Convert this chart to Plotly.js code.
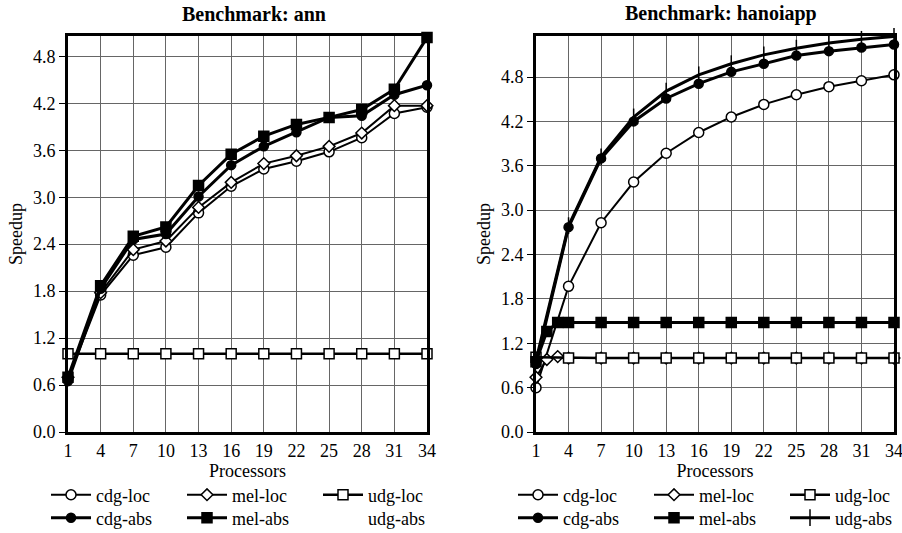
<!DOCTYPE html>
<html><head><meta charset="utf-8">
<script src="https://cdn.plot.ly/plotly-3.0.1.min.js"></script>
<style>html,body{margin:0;padding:0;background:#fff}#chart{width:902px;height:533px}</style>
</head><body><div id="chart"></div>
<script>
// ---- data ----
const procMain = [1,4,7,10,13,16,19,22,25,28,31,34];
const procFine = [1,2,3,4,7,10,13,16,19,22,25,28,31,34];
const yTickVals = [0,0.6,1.2,1.8,2.4,3.0,3.6,4.2,4.8];
const subplotTitles = ["Benchmark: ann","Benchmark: hanoiapp"];
const xTitle = "Processors";
const yTitle = "Speedup";
const seriesNames = ["cdg-loc","mel-loc","udg-loc","cdg-abs","mel-abs","udg-abs"];

// Benchmark: ann (x = procMain)
const annCdgLoc = [0.68,1.75,2.26,2.36,2.80,3.14,3.36,3.46,3.58,3.76,4.07,4.15];
const annMelLoc = [0.70,1.78,2.33,2.44,2.87,3.19,3.43,3.53,3.65,3.82,4.17,4.17];
const annUdgLoc = [1.00,1.00,1.00,1.00,1.00,1.00,1.00,1.00,1.00,1.00,1.00,1.00];
const annCdgAbs = [0.65,1.83,2.46,2.53,3.01,3.41,3.65,3.83,4.02,4.04,4.31,4.43];
const annMelAbs = [0.70,1.87,2.50,2.62,3.15,3.55,3.78,3.93,4.02,4.12,4.38,5.04];
const annUdgAbs = [1.00,1.00,1.00,1.00,1.00,1.00,1.00,1.00,1.00,1.00,1.00,1.00];

// Benchmark: hanoiapp (mel series use procFine, others procMain)
const hanCdgLoc = [0.60,1.97,2.83,3.38,3.77,4.05,4.26,4.43,4.56,4.67,4.75,4.83];
const hanMelLoc = [0.74,0.98,1.02,1.00,1.00,1.00,1.00,1.00,1.00,1.00,1.00,1.00,1.00,1.00];
const hanUdgLoc = [1.01,1.00,1.00,1.00,1.00,1.00,1.00,1.00,1.00,1.00,1.00,1.00];
const hanCdgAbs = [0.92,2.77,3.70,4.20,4.51,4.71,4.87,4.98,5.09,5.15,5.20,5.24];
const hanMelAbs = [0.95,1.36,1.48,1.48,1.48,1.48,1.48,1.48,1.48,1.48,1.48,1.48,1.48,1.48];
const hanUdgAbs = [0.97,2.79,3.72,4.26,4.61,4.83,4.98,5.10,5.19,5.26,5.31,5.35];

// ---- styles ----
const FONT = "'Liberation Serif', 'DejaVu Serif', serif";
const styles = {
  "cdg-loc": {symbol:"circle", size:10, fill:"#fff", lw:2},
  "mel-loc": {symbol:"diamond", size:9, fill:"#fff", lw:2},
  "udg-loc": {symbol:"square", size:10, fill:"#fff", lw:2.5},
  "cdg-abs": {symbol:"circle", size:9, fill:"#000", lw:3},
  "mel-abs": {symbol:"square", size:10, fill:"#000", lw:3},
  "udg-abs": {symbol:"line-ns", size:12, fill:"#000", lw:3}
};

function mk(name, x, y, xa, ya, legend, hidden){
  const s = styles[name];
  return {
    type:"scatter", mode: hidden ? "lines" : "lines+markers", name:name, x:x, y:y,
    xaxis:xa, yaxis:ya, legend:legend, cliponaxis:false, hoverinfo:"skip",
    line:{color: hidden ? "rgba(0,0,0,0)" : "#000", width:s.lw},
    marker:{symbol:s.symbol, size:s.size, color:s.fill, line:{color:"#000", width:1.5}}
  };
}

const traces = [
  mk(seriesNames[0], procMain, annCdgLoc, "x", "y", "legend"),
  mk(seriesNames[1], procMain, annMelLoc, "x", "y", "legend"),
  mk(seriesNames[2], procMain, annUdgLoc, "x", "y", "legend"),
  mk(seriesNames[3], procMain, annCdgAbs, "x", "y", "legend2"),
  mk(seriesNames[4], procMain, annMelAbs, "x", "y", "legend2"),
  mk(seriesNames[5], procMain, annUdgAbs, "x", "y", "legend2", true),
  mk(seriesNames[0], procMain, hanCdgLoc, "x2", "y2", "legend3"),
  mk(seriesNames[1], procFine, hanMelLoc, "x2", "y2", "legend3"),
  mk(seriesNames[2], procMain, hanUdgLoc, "x2", "y2", "legend3"),
  mk(seriesNames[3], procMain, hanCdgAbs, "x2", "y2", "legend4"),
  mk(seriesNames[4], procFine, hanMelAbs, "x2", "y2", "legend4"),
  mk(seriesNames[5], procMain, hanUdgAbs, "x2", "y2", "legend4")
];

const W = 902, H = 533;
const px = v => v / W, py = v => (H - v) / H;

function xax(dom){
  return {domain:dom, range:[1,34], tickmode:"array", tickvals:procMain, ticktext:procMain.map(String),
    showgrid:true, gridcolor:"#666", gridwidth:1, zeroline:false, ticklabeloverflow:"allow",
    showline:true, mirror:true, linecolor:"#000", linewidth:3, ticks:"",
    tickfont:{family:FONT, size:18, color:"#000"},
    title:{text:xTitle, font:{family:FONT, size:18, color:"#000"}, standoff:2}};
}
function yax(top, anchor){
  return {domain:[py(432), py(36)], range:[0, top], anchor:anchor, tickmode:"array", tickvals:yTickVals,
    ticktext:yTickVals.map(v=>v.toFixed(1)),
    showgrid:true, gridcolor:"#666", gridwidth:1, zeroline:false,
    showline:true, mirror:true, linecolor:"#000", linewidth:3, ticks:"outside", ticklen:6, tickcolor:"#000",
    tickfont:{family:FONT, size:18, color:"#000"},
    title:{text:yTitle, font:{family:FONT, size:18, color:"#000"}, standoff:6}};
}
function leg(x, y){
  return {orientation:"h", x:x, xanchor:"left", y:y, yanchor:"middle", bgcolor:"rgba(0,0,0,0)",
    font:{family:FONT, size:18, color:"#000"}, itemwidth:40, entrywidth:81, entrywidthmode:"pixels",
    tracegroupgap:0, itemclick:false, itemdoubleclick:false};
}

const layout = {
  width:W, height:H, margin:{l:0,r:0,t:0,b:0,autoexpand:false},
  paper_bgcolor:"#fff", plot_bgcolor:"#fff", showlegend:true,
  font:{family:FONT, size:18, color:"#000"},
  xaxis: Object.assign(xax([px(68), px(427)]), {anchor:"y"}),
  yaxis: yax(5.06, "x"),
  xaxis2: Object.assign(xax([px(536), px(894)]), {anchor:"y2"}),
  yaxis2: yax(5.355, "x2"),
  legend: leg(px(46), py(495)),
  legend2: leg(px(46), py(518)),
  legend3: leg(px(513), py(495)),
  legend4: leg(px(513), py(518)),
  annotations: [
    {text:"<b>"+subplotTitles[0]+"</b>", xref:"paper", yref:"paper", x:px(254), y:py(14), xanchor:"center", yanchor:"middle", showarrow:false, font:{family:FONT, size:20, color:"#000"}},
    {text:"<b>"+subplotTitles[1]+"</b>", xref:"paper", yref:"paper", x:px(721), y:py(14), xanchor:"center", yanchor:"middle", showarrow:false, font:{family:FONT, size:20, color:"#000"}}
  ]
};

Plotly.newPlot("chart", traces, layout, {staticPlot:true, displayModeBar:false});
</script></body></html>
